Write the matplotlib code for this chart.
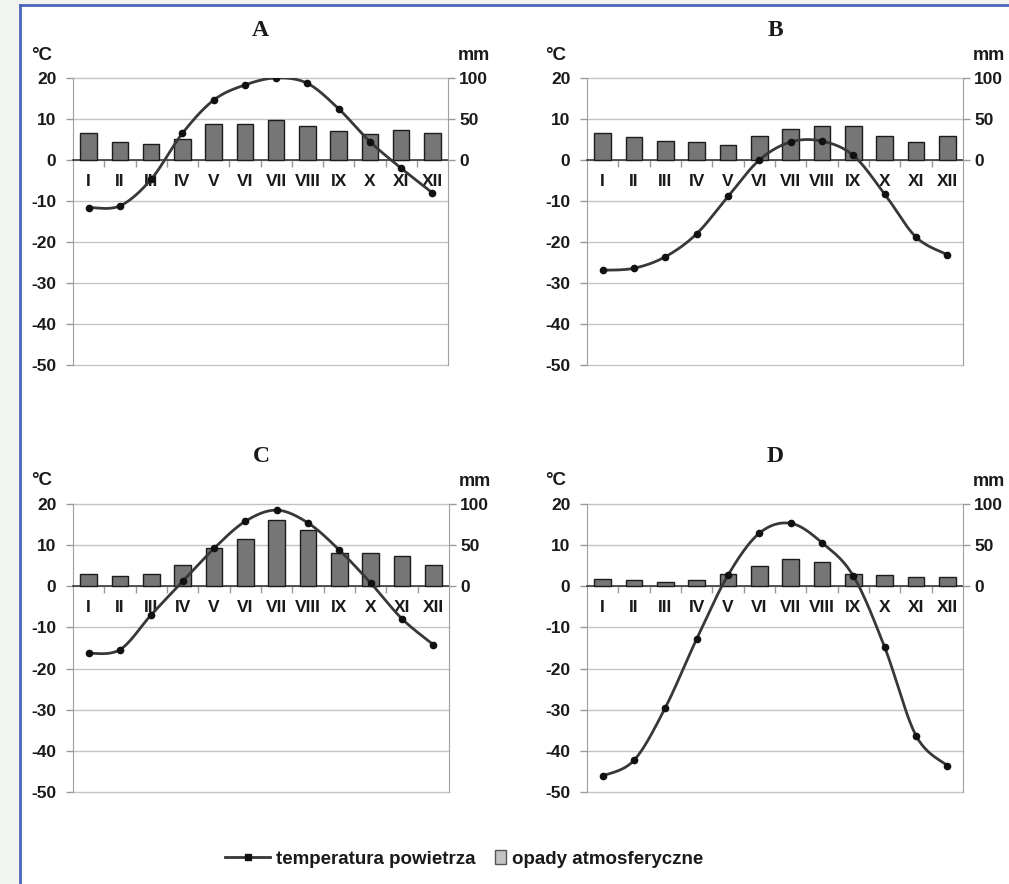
import matplotlib
matplotlib.use('Agg')
import matplotlib.pyplot as plt
import numpy as np
from matplotlib.lines import Line2D
from matplotlib.patches import Rectangle, Patch

# ---------------- data ----------------
months = ['I', 'II', 'III', 'IV', 'V', 'VI', 'VII', 'VIII', 'IX', 'X', 'XI', 'XII']

temp_A = [-11.6, -11.2, -4.7, 6.5, 14.6, 18.3, 20.0, 18.7, 12.5, 4.5, -2.0, -8.0]
prec_A = [33, 22, 19.5, 26, 44, 43.5, 49, 42, 35, 32, 37, 32.5]

temp_B = [-26.9, -26.4, -23.6, -18.0, -8.9, 0.0, 4.4, 4.6, 1.1, -8.3, -18.8, -23.1]
prec_B = [33, 28, 23.5, 21.5, 18, 29, 37.5, 42, 42, 29.5, 22.5, 29.5]

temp_C = [-16.3, -15.4, -6.9, 1.2, 9.2, 15.8, 18.5, 15.4, 8.8, 0.8, -7.9, -14.2]
prec_C = [15, 13, 15, 26, 47, 58, 81, 69, 41, 41, 37, 26]

temp_D = [-46.1, -42.3, -29.5, -12.8, 2.7, 12.9, 15.3, 10.6, 2.5, -14.8, -36.3, -43.6]
prec_D = [9, 7.5, 5.5, 7.5, 14.5, 25, 33, 29, 15, 14, 11.5, 11.5]

panel_titles = ['A', 'B', 'C', 'D']
temp_ticks = [-50, -40, -30, -20, -10, 0, 10, 20]
prec_ticks = [0, 50, 100]
legend_labels = ['temperatura powietrza', 'opady atmosferyczne']

# ---------------- style ----------------
W, H = 1009, 884
TXT = '#1a1a1a'
FONT = 'Liberation Sans'
plt.rcParams['font.family'] = [FONT, 'DejaVu Sans']
plt.rcParams['font.weight'] = 'bold'
plt.rcParams['axes.unicode_minus'] = False

fig = plt.figure(figsize=(W / 100, H / 100), dpi=100)
fig.patch.set_facecolor('#f2f4f2')
fig.add_artist(Rectangle((20 / W, 0), 1, 1 - 5 / H, transform=fig.transFigure,
                         facecolor='white', edgecolor='none', zorder=-10))
fig.add_artist(Line2D([20 / W, 20 / W], [0, 1 - 5 / H], transform=fig.transFigure,
                      color='#4a66b8', lw=2, zorder=-5))
fig.add_artist(Line2D([20 / W, 1], [1 - 5 / H, 1 - 5 / H], transform=fig.transFigure,
                      color='#4a66b8', lw=2, zorder=-5))


def smooth(x, y, n=24):
    P = np.column_stack([x, y]).astype(float)
    out = []
    for i in range(len(P) - 1):
        p0 = P[i - 1] if i > 0 else P[i]
        p1, p2 = P[i], P[i + 1]
        p3 = P[i + 2] if i + 2 < len(P) else P[i + 1]
        c1 = p1 + (p2 - p0) / 6.0
        c2 = p2 - (p3 - p1) / 6.0
        t = np.linspace(0, 1, n)[:, None]
        seg = (1 - t) ** 3 * p1 + 3 * (1 - t) ** 2 * t * c1 + 3 * (1 - t) * t ** 2 * c2 + t ** 3 * p2
        out.append(seg if i == 0 else seg[1:])
    return np.vstack(out)


def panel(x0, y0, x1, y1, title, temps, prec):
    ax = fig.add_axes([x0 / W, 1 - y1 / H, (x1 - x0) / W, (y1 - y0) / H])
    ax.patch.set_visible(False)
    ax2 = ax.twinx()
    x = np.arange(len(months))

    # precipitation bars (right axis)
    ax2.bar(x, prec, width=0.53, color='#767676', edgecolor='#1c1c1c', lw=1.0, zorder=2)

    # temperature line (left axis scale), drawn on top
    s = smooth(x, temps)
    ax2.add_line(Line2D(s[:, 0], s[:, 1], transform=ax.transData, color='#383838',
                        lw=2.0, zorder=4, solid_capstyle='round'))
    ax2.add_line(Line2D(x, temps, transform=ax.transData, ls='none', marker='o',
                        markersize=4.5, color='#111111', zorder=5))

    ax.set_xlim(-0.5, 11.5)
    ax.set_ylim(-50, 20)
    ax2.set_ylim(-250, 100)

    ax.set_yticks(temp_ticks)
    ax.yaxis.grid(True, color='#c4c4c4', lw=1.0)
    for gl in ax.get_ygridlines():
        gl.set_clip_on(False)
    ax.set_axisbelow(True)
    ax.tick_params(axis='y', direction='out', length=5, color='#9a9a9a', width=1,
                   labelsize=12.5, labelcolor=TXT, pad=7)
    ax.spines['top'].set_visible(False)
    ax.spines['right'].set_visible(False)
    ax.spines['left'].set_color('#a0a0a0')
    ax.spines['bottom'].set_position(('data', 0))
    ax.spines['bottom'].set_color('#3a3a3a')
    ax.spines['bottom'].set_linewidth(1.2)
    ax.set_xticks(np.arange(0.5, 11, 1))
    ax.set_xticklabels([])
    ax.set_xticks(x, minor=True)
    ax.set_xticklabels(months, minor=True)
    ax.tick_params(axis='x', which='major', direction='out', length=5, color='#9a9a9a', width=1)
    ax.tick_params(axis='x', which='minor', length=0, labelsize=12.5, labelcolor=TXT, pad=10)

    ax2.set_yticks(prec_ticks)
    ax2.tick_params(axis='y', direction='out', length=5, color='#9a9a9a', width=1,
                    labelsize=12.5, labelcolor=TXT, pad=3)
    for sp in ['top', 'left', 'bottom']:
        ax2.spines[sp].set_visible(False)
    ax2.spines['right'].set_color('#a0a0a0')

    cx = (x0 + x1) / 2
    fig.text(cx / W, 1 - (y0 - 48) / H, title, ha='center', va='center',
             family='Liberation Serif', weight='bold', size=17, color=TXT)
    fig.text((x0 - 42) / W, 1 - (y0 - 23) / H, '°C', ha='left', va='center',
             size=13.5, weight='bold', color=TXT)
    fig.text((x1 + 42) / W, 1 - (y0 - 22) / H, 'mm', ha='right', va='center',
             size=13, weight='bold', color=TXT)
    return ax, ax2


panel(73, 78, 448, 365, panel_titles[0], temp_A, prec_A)
panel(587, 78, 963, 365, panel_titles[1], temp_B, prec_B)
panel(73, 504, 449, 792, panel_titles[2], temp_C, prec_C)
panel(587, 504, 963, 792, panel_titles[3], temp_D, prec_D)

legend_y = 1 - 859 / H
line_handle = Line2D([], [], color='#353535', lw=2, marker='s', markersize=4,
                     markerfacecolor='#111111', markeredgecolor='#111111')
bar_handle = Patch(facecolor='#c4c4c4', edgecolor='#555555', lw=1)
common = dict(frameon=False, prop={'family': FONT, 'weight': 'bold', 'size': 13.5},
              borderpad=0, borderaxespad=0, labelcolor=TXT, handletextpad=0.33)
leg1 = fig.legend([line_handle], [legend_labels[0]], loc='center left',
                  bbox_to_anchor=(225 / W, legend_y), handlelength=2.4, **common)
leg2 = fig.legend([bar_handle], [legend_labels[1]], loc='center left',
                  bbox_to_anchor=(495 / W, legend_y), handlelength=0.6,
                  handleheight=0.75, **common)

fig.savefig('out.png', dpi=100, facecolor=fig.get_facecolor())
